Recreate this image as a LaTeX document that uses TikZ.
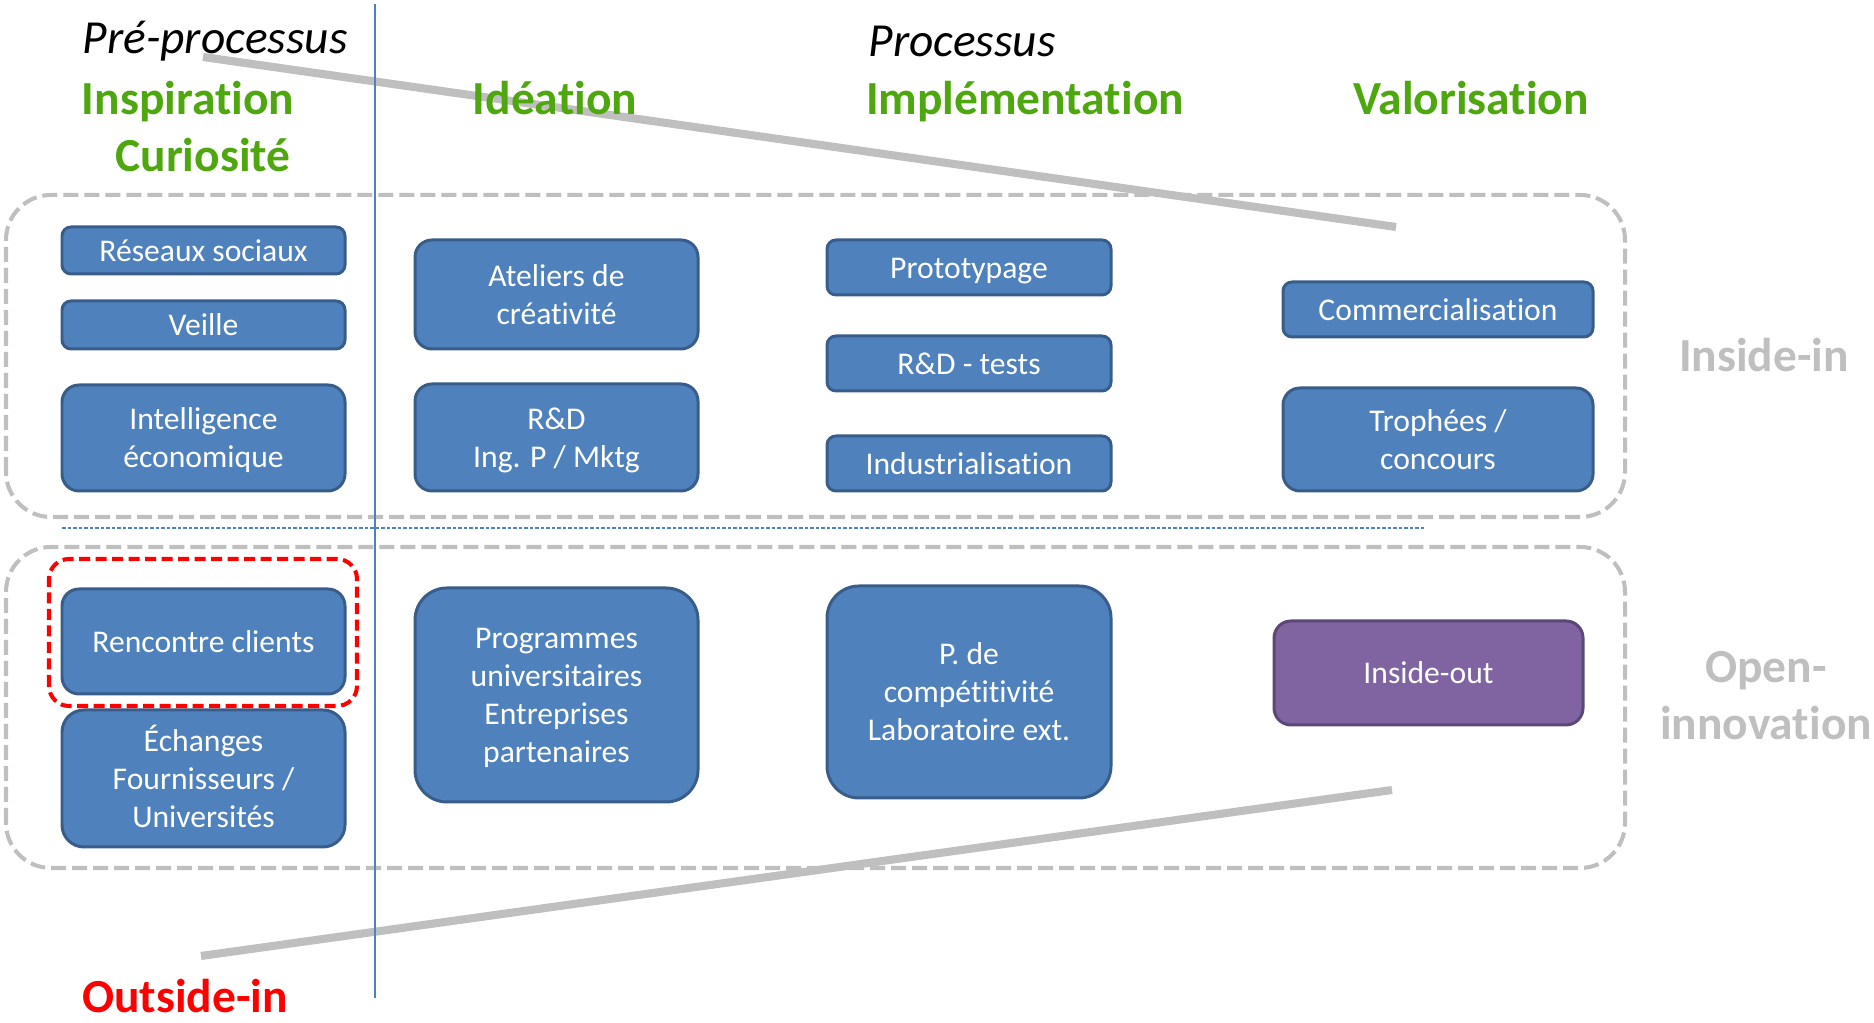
\documentclass[tikz,border=0pt]{standalone}
\usepackage{fontspec}
\setmainfont{Carlito}[Ligatures={TeX,NoCommon}]
\definecolor{fillblue}{HTML}{4F81BD}
\definecolor{edgeblue}{HTML}{385D8A}
\definecolor{fillviolet}{HTML}{8064A2}
\definecolor{edgeviolet}{HTML}{5C4776}
\definecolor{headgreen}{RGB}{78,167,14}
\definecolor{greyline}{HTML}{BFBFBF}
\newcommand{\topstrut}{\rule{0pt}{0.952em}}
\newcommand{\botstrut}{\rule[-0.269em]{0pt}{0.269em}}

\begin{document}
\begin{tikzpicture}[
  blok/.style={draw=edgeblue, fill=fillblue, line width=0.85pt, rounded corners=#1, text=white,
    align=center, inner sep=0pt, minimum width=2.83cm, font=\fontsize{9}{10.8}\selectfont,
    execute at begin node=\topstrut, execute at end node=\botstrut},
  blok/.default=0.09cm,
  violetbox/.style={blok=0.17cm, draw=edgeviolet, fill=fillviolet},
  head/.style={anchor=base, text=headgreen, font=\fontsize{13.5}{16.2}\selectfont\bfseries},
  side/.style={text=greyline, align=center, font=\fontsize{13.5}{16.2}\selectfont\bfseries},
  zone/.style={draw=greyline, line width=1.15pt, dash pattern=on 0.15cm off 0.06cm, rounded corners=0.45cm},
  trend/.style={draw=greyline, line width=2.3pt}]
\useasboundingbox (0,0) rectangle (18.74,10.23);

% zones inside-in / open-innovation
\draw[zone] (0.06,5.06) rectangle (16.25,8.28);
\draw[zone] (0.06,1.55) rectangle (16.25,4.76);

% funnel lines
\coordinate (a1) at (2.03,9.66);
\coordinate (a2) at (13.96,7.96);
\coordinate (b1) at (2.01,0.67);
\coordinate (b2) at (13.92,2.33);
\path[trend] (a1) -- (a2);
\path[trend] (b1) -- (b2);

\coordinate (v1) at (3.75,10.19);
\coordinate (v2) at (3.75,0.25);
\coordinate (h1) at (0.62,4.95);
\coordinate (h2) at (14.25,4.95);
\draw[fillblue, line width=0.55pt] (v1) -- (v2);
\draw[fillblue, line width=0.35pt, dash pattern=on 0.035cm off 0.02cm] (h1) -- (h2);

\node (1) [blok, minimum height=0.47cm] at (2.035,7.725) {Réseaux sociaux};
\node (2) [blok, minimum height=0.48cm, node distance=0.745cm, below of=1] {Veille};
\node (3) [blok=0.17cm, minimum height=1.06cm, node distance=1.13cm, below of=2] {\topstrut Intelligence\\économique\botstrut};
\node (4) [blok=0.17cm, minimum height=1.05cm, node distance=2.035cm, below of=3] {Rencontre clients};
\node (5) [blok=0.22cm, minimum height=1.37cm, node distance=1.37cm, below of=4] {\topstrut Échanges\\Fournisseurs /\\Universités\botstrut};
\draw[red, line width=1.15pt, dash pattern=on 0.11cm off 0.055cm, rounded corners=0.2cm] (0.49,3.17) rectangle (3.57,4.64);

\node (6) [blok=0.17cm, minimum height=1.09cm] at (5.565,7.285) {\topstrut Ateliers de\\créativité\botstrut};
\node (7) [blok=0.17cm, minimum height=1.07cm, node distance=1.43cm, below of=6] {\topstrut R\&D\\Ing. P / Mktg\botstrut};
\node (8) [blok=0.32cm, minimum height=2.14cm, node distance=2.575cm, below of=7] {\topstrut Programmes\\universitaires\\Entreprises\\partenaires\botstrut};

\node (9) [blok, minimum height=0.55cm, minimum width=2.84cm] at (9.69,7.555) {Prototypage};
\node (10) [blok, minimum height=0.55cm, minimum width=2.84cm, node distance=0.96cm, below of=9] {R\&D - tests};
\node (11) [blok, minimum height=0.55cm, minimum width=2.84cm, node distance=1cm, below of=10] {Industrialisation};
\node (12) [blok=0.32cm, minimum height=2.12cm, minimum width=2.84cm, node distance=2.285cm, below of=11] {\topstrut P. de\\compétitivité\\Laboratoire ext.\botstrut};

\node (13) [blok, minimum height=0.55cm, minimum width=3.1cm] at (14.38,7.135) {Commercialisation};
\node (14) [blok=0.17cm, minimum height=1.03cm, minimum width=3.1cm, node distance=1.3cm, below of=13] {\topstrut Trophées /\\concours\botstrut};
\node (15) [violetbox, minimum height=1.04cm, minimum width=3.09cm] at (14.285,3.5) {Inside-out};

% titles
\node (16) [anchor=base, font=\fontsize{13.5}{16.2}\selectfont\itshape] at (2.15,9.69) {Pré-processus};
\node (17) [anchor=base, font=\fontsize{13.5}{16.2}\selectfont\itshape] at (9.62,9.66) {Processus};
\node (18) [head] at (1.88,9.08) {Inspiration};
\node (19) [head] at (2.03,8.51) {Curiosité};
\node (20) [head] at (5.55,9.08) {Idéation};
\node (21) [head] at (10.25,9.08) {Implémentation};
\node (22) [head] at (14.71,9.08) {Valorisation};
\node (23) [side, anchor=base] at (17.64,6.51) {Inside-in};
\node (24) [side] at (17.66,3.27) {Open-\\innovation};
\node (25) [head, text=red] at (1.85,0.10) {Outside-in};
\end{tikzpicture}
\end{document}
